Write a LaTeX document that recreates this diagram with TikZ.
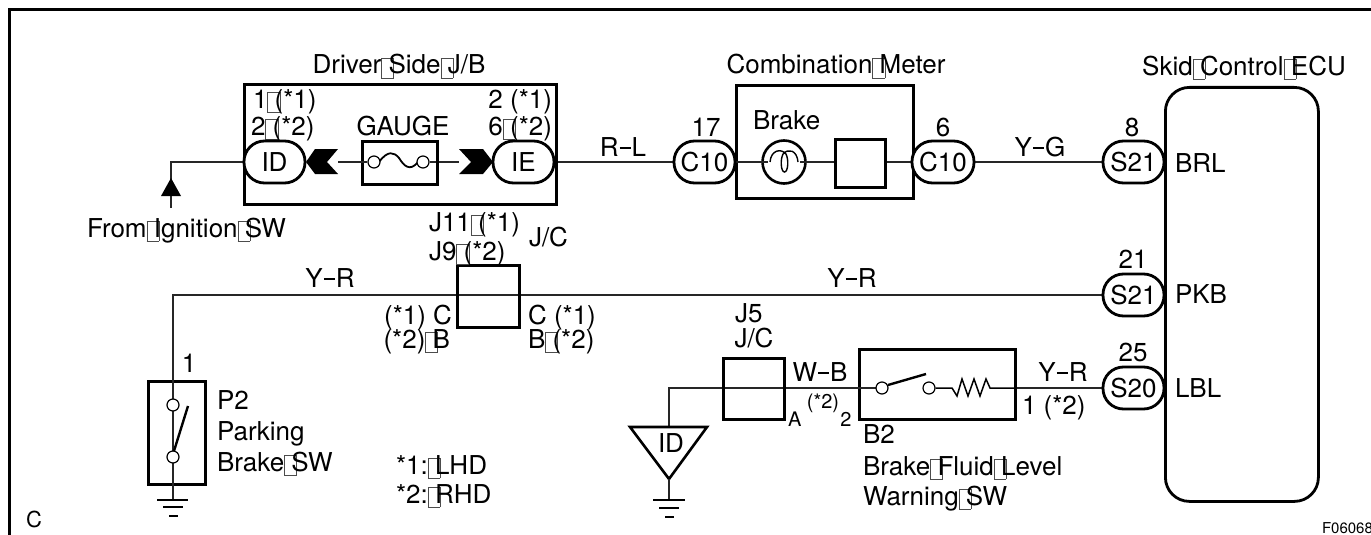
\documentclass[tikz,border=0pt]{standalone}
\usepackage{fontspec}
\setmainfont{TeX Gyre Heros}
\newcommand{\tofu}{\rlap{\raisebox{-.15em}{\setlength{\fboxsep}{0pt}\setlength{\fboxrule}{.35pt}\textcolor{black!70}{\fbox{\rule{0pt}{.75em}\rule{.45em}{0pt}}}}}\hspace{.278em}}
\newcommand{\dsh}{\hspace{.04em}\raisebox{.28em}{\rule{.42em}{.05em}}\hspace{.04em}}
\tikzset{
  x=1pt,y=-1pt,
  txt/.style={inner sep=0pt,outer sep=0pt,font=\fontsize{26}{26}\selectfont},
  lab/.style={txt,anchor=base west},
  labc/.style={txt,anchor=base},
  labr/.style={txt,anchor=base east},
  small/.style={font=\fontsize{20}{20}\selectfont},
  wire/.style={line width=1.3pt,draw=black!85},
  heavy/.style={line width=2.8pt,draw=black},
  ring/.style={line width=1.2pt,draw=black,fill=white,circle,inner sep=0pt,minimum size=12pt},
  blade/.style={line width=2.4pt},
  bar/.style={line width=1.2pt},
  barthick/.style={line width=2.6pt},
}
\newcommand{\pillnode}[6]{\node[heavy,fill=white,draw,rounded corners=20.5pt,minimum width=#4pt,minimum height=42pt,inner sep=0pt,outer sep=0pt,font=\fontsize{26}{26}\selectfont] (#1) at (#2,#3) {#5};}
\begin{document}
\begin{tikzpicture}
\useasboundingbox (0,0) rectangle (1371,535);
% frame
\coordinate (fa) at (9,535);
\coordinate (fb) at (9,10);
\coordinate (fc) at (1371,10);
\draw[line width=3pt] (fa) -- (fb) -- (fc);

% wires
\coordinate (ignA) at (171,162);
\coordinate (ignB) at (171,208);
\coordinate (pkA) at (173,295);
\coordinate (pkB) at (173,500);
\coordinate (idT) at (669,388);
\coordinate (idG) at (669,500);
\draw[wire] (ignB) -- (ignA) -- (244,162);
\draw[wire] (338,162) -- (361,162);
\draw[wire] (436,162) -- (459,162);
\draw[wire] (554,162) -- (674,162);
\draw[wire] (974,162) -- (1103,162);
\draw[wire] (pkB) -- (pkA) -- (1103,295);
\draw[wire] (idG) -- (idT) -- (1103,388);

% ECU
\node[heavy,rounded corners=24pt,minimum width=153pt,minimum height=414pt,inner sep=0pt,anchor=north west] (ecu) at (1164,86) {};

% Driver side J/B
\node[line width=3pt,draw,minimum width=312pt,minimum height=120pt,inner sep=0pt,anchor=north west] (jb) at (243,83) {};
\node[labc] (jbt) at (399,74) {Driver\tofu Side\tofu J/B};
\node[lab] (id1) at (253,108) {1\tofu(*1)};
\node[lab] (id2) at (251,135) {2\tofu(*2)};
\node[labr] (ie1) at (552,108) {2 (*1)};
\node[labr] (ie2) at (552,135) {6\tofu(*2)};
\node[labc] (ga) at (403,135) {GAUGE};
\pillnode{idp}{274.5}{162}{61}{ID}{}
\pillnode{iep}{523.5}{162}{61}{IE}{}
\fill (306,162) -- (315,149) -- (338,149) -- (327,162) -- (338,174) -- (315,174) -- cycle;
\fill (493,162) -- (483,149) -- (459,149) -- (471,162) -- (459,174) -- (483,174) -- cycle;
\node[line width=2.6pt,draw,fill=white,minimum width=75pt,minimum height=43pt,inner sep=0pt,anchor=north west] (gbox) at (361,140) {};
\draw[line width=1.8pt] (379,162) .. controls (388,150) and (394,152) .. (399,158) .. controls (404,166) and (410,172) .. (418,162);
\node[ring] (g1) at (374,162) {};
\node[ring] (g2) at (423,162) {};
\draw[wire] (361,162) -- (g1) (g2) -- (436,162);
\fill (161,196) -- (181,196) -- (171,178) -- cycle;
\node[lab] (from) at (87,237) {From\tofu Ignition\tofu SW};

% Combination meter
\node[line width=2.6pt,draw,minimum width=177pt,minimum height=113pt,inner sep=0pt,anchor=north west] (cm) at (735,84) {};
\draw[wire] (735,162) -- (834,162);
\draw[wire] (884,162) -- (912,162);
\node[labc] (cmt) at (836,74) {Combination\tofu Meter};
\node[lab] (brk) at (753,129) {Brake};
\node[line width=2.6pt,draw,fill=white,circle,minimum size=43pt,inner sep=0pt] (lamp) at (784,162) {};
\draw[wire] (lamp.west) -- ++(7,0);
\draw[wire] (lamp.east) -- ++(-7,0);
\draw[line width=1.4pt] (770,162) .. controls (771,150) and (781,148) .. (786,154)
  .. controls (789,160) and (788,172) .. (784.5,172)
  .. controls (781,172) and (780,160) .. (783,154)
  .. controls (788,148) and (797,150) .. (798,162);
\node[line width=2.6pt,draw,minimum width=50pt,minimum height=48pt,inner sep=0pt,anchor=north west] (sq) at (834,138) {};
\pillnode{c1}{704.5}{162}{61}{C10}{}
\pillnode{c2}{943}{162}{62}{C10}{}
\pillnode{s1}{1133.5}{162}{61}{S21}{}
\pillnode{s2}{1133.5}{295}{61}{S21}{}
\pillnode{s3}{1133.5}{388}{61}{S20}{}
\node[labc] (n17) at (706,136) {17};
\node[labc] (n6) at (943,136) {6};
\node[labc] (n8) at (1132,136) {8};
\node[labc] (n21) at (1133,268) {21};
\node[labc] (n25) at (1133,361) {25};
\node[lab] (brl) at (1175,172) {BRL};
\node[lab] (pkb) at (1175,303) {PKB};
\node[lab] (lbl) at (1175,397) {LBL};
\node[labc] (ecut) at (1244,75) {Skid\tofu Control\tofu ECU};
\node[labc] (rl) at (623,156) {R\dsh L};
\node[labc] (yg) at (1040,156) {Y\dsh G};

% J/C left
\node[line width=2.6pt,draw,minimum width=62pt,minimum height=62pt,inner sep=0pt,anchor=north west] (jc1) at (456,264) {};
\node[lab] (j11) at (429,231) {J11\tofu(*1)};
\node[lab] (j9) at (429,260) {J9\tofu(*2)};
\node[lab] (jct) at (529,246) {J/C};
\node[labc] (yr1) at (330,287) {Y\dsh R};
\node[labc] (yr2) at (852,287) {Y\dsh R};
\node[labr] (cl) at (452,324) {(*1)\ C};
\node[labr] (bl) at (450,348) {(*2)\tofu B};
\node[lab] (cr) at (528,324) {C\ (*1)};
\node[lab] (br) at (528,348) {B\tofu(*2)};

% Parking
\node[line width=2.8pt,draw,minimum width=57pt,minimum height=103pt,inner sep=0pt,anchor=north west] (p2) at (147,380) {};
\draw[wire] (pkA) -- (pkB);
\node[ring] (pk1) at (173,405) {};
\node[ring] (pk2) at (173,457) {};
\draw[blade] (174,451) -- (188,406);
\node[labc] (n1) at (189,372) {1};
\node[lab] (p2t) at (217,409) {P2};
\node[lab] (p2u) at (217,440) {Parking};
\node[lab] (p2v) at (217,471) {Brake\tofu SW};
\draw[barthick] (157,500) -- (188,500);
\draw[bar] (163,507) -- (183,507);
\draw[bar] (169,516) -- (178,516);
\node[lab] (k1) at (396,474) {*1:\tofu LHD};
\node[lab] (k2) at (396,503) {*2:\tofu RHD};

% J5
\node[line width=2.6pt,draw,minimum width=61pt,minimum height=61pt,inner sep=0pt,anchor=north west] (jc2) at (722,357) {};
\node[lab] (j5) at (735,322) {J5};
\node[labc] (jc2t) at (754,347) {J/C};
\node[labc] (wb) at (820,381) {W\dsh B};
\node[lab,small] (a) at (788,426) {A};
\node[labc,small] (st2) at (823,408) {(*2)};
\node[labc,small] (two) at (846,426) {2};
\node[lab] (one) at (1022,414) {1 (*2)};
\node[labc] (yr3) at (1063,381) {Y\dsh R};

% B2
\node[line width=2.8pt,draw,fill=white,minimum width=156pt,minimum height=70pt,inner sep=0pt,anchor=north west] (b2) at (858,348) {};
\draw[wire] (858,388) -- (882,388);
\node[ring] (b1) at (882,388) {};
\node[ring] (b3) at (929,388) {};
\draw[blade] (888,385) -- (926,374);
\draw[line width=1.5pt] (b3.east) -- (952,388) -- (957,396) -- (962,379) -- (968,396) -- (974,379) -- (980,396) -- (986,379) -- (990,388) -- (1014,388);
\node[lab] (b2t) at (863,443) {B2};
\node[lab] (b2u) at (863,475) {Brake\tofu Fluid\tofu Level};
\node[lab] (b2v) at (863,505) {Warning\tofu SW};

% ground ID
\draw[line width=2.6pt,fill=white,line join=miter] (630,427) -- (707,427) -- (669,479) -- cycle;
\node[labc] (idg) at (671,452) {ID};
\draw[wire] (669,479) -- (idG);
\draw[barthick] (653,500) -- (685,500);
\draw[bar] (659,508) -- (679,508);
\draw[bar] (665,517) -- (674,517);

\node[lab,font=\fontsize{22}{22}\selectfont] (cc) at (26,527) {C};
\node[lab,font=\fontsize{15}{15}\selectfont] (ff) at (1322,533) {F06068};
\end{tikzpicture}
\end{document}
